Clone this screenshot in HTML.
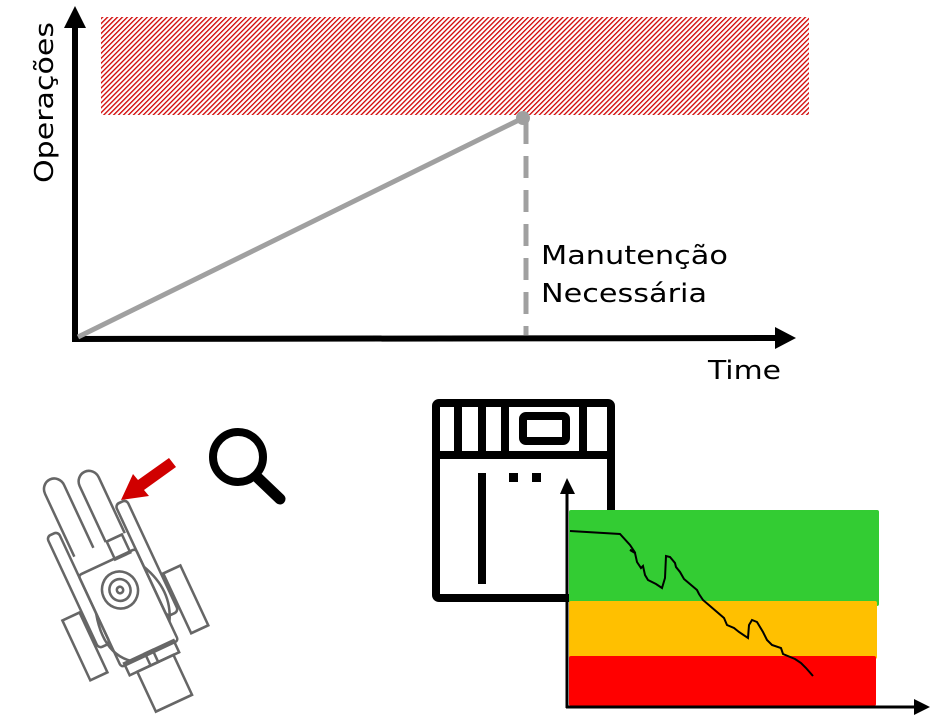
<!DOCTYPE html>
<html><head><meta charset="utf-8"><style>
html,body{margin:0;padding:0;background:#fff;}
svg{display:block;}
text{font-family:"DejaVu Sans","Liberation Sans",sans-serif;fill:#000;}
</style></head><body>
<svg width="939" height="721" viewBox="0 0 939 721" xmlns="http://www.w3.org/2000/svg">
<defs>
<pattern id="h" width="3.5" height="3.5" patternUnits="userSpaceOnUse" patternTransform="rotate(45)">
<rect width="3.5" height="3.5" fill="#fff"/><rect width="1.3" height="3.5" fill="#d00000"/>
</pattern>
</defs>
<rect x="101" y="17" width="708" height="98" fill="url(#h)"/>
<line x1="75" y1="342" x2="75" y2="24" stroke="#000" stroke-width="6"/>
<polygon points="64,28 75,6 86,28" fill="#000"/>
<line x1="73" y1="339" x2="778" y2="338" stroke="#000" stroke-width="6"/>
<polygon points="775,327 796,338 775,349" fill="#000"/>
<line x1="78" y1="337" x2="523" y2="118" stroke="#a0a0a0" stroke-width="5"/>
<circle cx="523" cy="118" r="7" fill="#a0a0a0"/>
<line x1="526" y1="122" x2="526" y2="335" stroke="#a0a0a0" stroke-width="5" stroke-dasharray="22,12"/>
<text x="541" y="264" font-size="26" textLength="187" lengthAdjust="spacingAndGlyphs">Manutenção</text>
<text x="541" y="302" font-size="26" textLength="166" lengthAdjust="spacingAndGlyphs">Necessária</text>
<text x="708" y="379" font-size="26" textLength="73" lengthAdjust="spacingAndGlyphs">Time</text>
<text transform="translate(53,183) rotate(-90)" font-size="26" textLength="161" lengthAdjust="spacingAndGlyphs">Operações</text>

<circle cx="238" cy="457" r="25" fill="none" stroke="#000" stroke-width="8"/>
<line x1="258" y1="478" x2="280" y2="499" stroke="#000" stroke-width="11" stroke-linecap="round"/>
<polygon points="176,467 169,458 138,480 133,474 121,500 149,496 144,490" fill="#d00000"/>

<g transform="translate(120,590) rotate(-25) scale(1.05,1.1)" fill="none" stroke="#666" stroke-width="2.4">
<path d="M-26,-45 L-26,-108 a10,10 0 0 1 20,0 L-6,-45"/>
<path d="M7,-45 L7,-101 a10,10 0 0 1 20,0 L27,-45"/>
<rect x="8" y="-45" width="16" height="18"/>
<rect x="-42" y="-72" width="12" height="112" rx="4"/>
<rect x="30" y="-72" width="12" height="112" rx="4"/>
<rect x="-62" y="3" width="18" height="60"/>
<rect x="44" y="3" width="18" height="60"/>
<rect x="-30" y="-28" width="60" height="92" rx="3"/>
<path d="M-30,10 Q-40,45 -20,62"/>
<path d="M30,-10 Q45,20 30,45"/>
<circle cx="0" cy="0" r="17"/>
<circle cx="0" cy="0" r="10"/>
<circle cx="0" cy="0" r="3"/>
<rect x="-26" y="62" width="52" height="12"/>
<rect x="-4" y="62" width="8" height="12"/>
<rect x="-18" y="74" width="38" height="40"/>
</g>

<rect x="436" y="403" width="175" height="195" rx="3" fill="#fff" stroke="#000" stroke-width="8"/>
<line x1="436" y1="455" x2="611" y2="455" stroke="#000" stroke-width="8"/>
<rect x="454" y="403" width="8" height="52" fill="#000"/>
<rect x="478" y="403" width="8" height="52" fill="#000"/>
<rect x="501" y="403" width="8" height="52" fill="#000"/>
<rect x="579" y="403" width="8" height="52" fill="#000"/>
<rect x="523" y="416" width="43" height="25" rx="3" fill="none" stroke="#000" stroke-width="8"/>
<rect x="478" y="473" width="8" height="111" fill="#000"/>
<rect x="509" y="473" width="9" height="9" fill="#000"/>
<rect x="532" y="473" width="9" height="9" fill="#000"/>

<rect x="569" y="510" width="310" height="96" rx="2" fill="#33cc33"/>
<rect x="569" y="601" width="308" height="58" rx="2" fill="#ffc000"/>
<rect x="569" y="656" width="307" height="50" rx="2" fill="#ff0000"/>
<line x1="567" y1="708" x2="567" y2="490" stroke="#000" stroke-width="3"/>
<polygon points="560,494 567,478 575,494" fill="#000"/>
<line x1="566" y1="707" x2="916" y2="707" stroke="#000" stroke-width="3"/>
<polygon points="914,699 930,707 914,715" fill="#000"/>
<polyline fill="none" stroke="#000" stroke-width="2" points="570,531 620,534 630,545 634,551 630,550 635,553 637,562 641,568 643,566 645,575 648,580 656,584 662,588 665,578 666,556 670,557 675,563 676,567 680,572 684,579 697,590 699,594 703,600 724,618 727,625 734,628 739,632 748,638 749,625 752,620 757,622 763,632 767,640 772,645 781,648 783,654 795,659 801,663 806,668 813,676"/>
</svg>
</body></html>
